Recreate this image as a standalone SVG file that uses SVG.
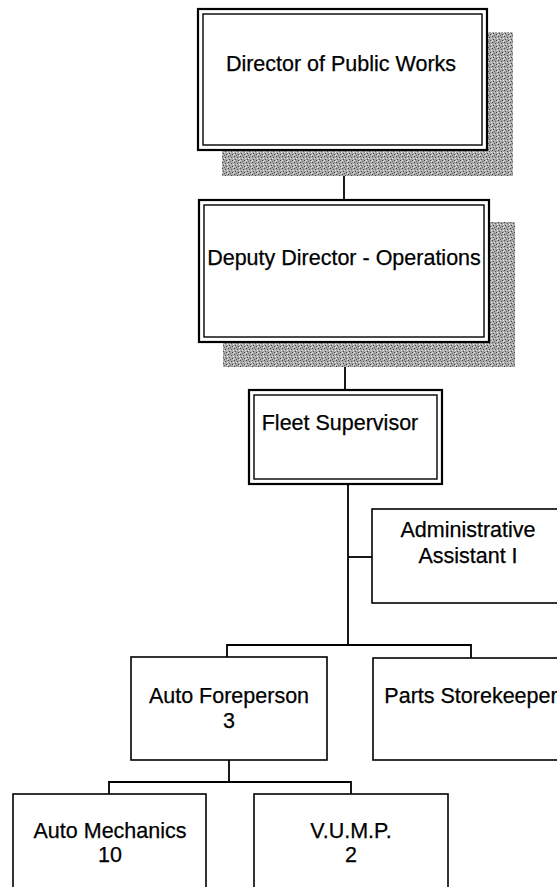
<svg xmlns="http://www.w3.org/2000/svg" width="557" height="887" viewBox="0 0 557 887">
<style>
.box{fill:#fff;stroke:#000;stroke-width:1.6}
.outer{fill:#fff;stroke:#000;stroke-width:2.2}
.inner{fill:none;stroke:#000;stroke-width:1.4}
.shadow{fill:url(#halftone)}
.conn{stroke:#000;stroke-width:1.8;fill:none}
text{font-family:"Liberation Sans",Arial,sans-serif;font-size:21.5px;fill:#000;text-anchor:middle;stroke:#000;stroke-width:0.25}
</style>
<defs>
<pattern id="halftone" width="6" height="6" patternUnits="userSpaceOnUse">
<rect width="6" height="6" fill="#a9a9a9"/>
<rect x="0" y="0" width="1" height="1" fill="#444"/>
<rect x="3" y="1" width="1" height="1" fill="#555"/>
<rect x="1" y="3" width="1" height="1" fill="#4a4a4a"/>
<rect x="4" y="4" width="1" height="1" fill="#444"/>
<rect x="2" y="5" width="1" height="1" fill="#666"/>
<rect x="5" y="2" width="1" height="1" fill="#eee"/>
<rect x="2" y="2" width="1" height="1" fill="#ddd"/>
<rect x="5" y="5" width="1" height="1" fill="#e6e6e6"/>
<rect x="0" y="4" width="1" height="1" fill="#ddd"/>
</pattern>
</defs>
<g id="connectors">
<line class="conn" x1="344" y1="151" x2="344" y2="199"/>
<line class="conn" x1="345" y1="343" x2="345" y2="389"/>
<line class="conn" x1="348" y1="485" x2="348" y2="645"/>
<line class="conn" x1="348" y1="557" x2="372" y2="557"/>
<polyline class="conn" points="227,657 227,645 471,645 471,658"/>
<line class="conn" x1="229" y1="760" x2="229" y2="782"/>
<polyline class="conn" points="109,794 109,782 351,782 351,794"/>
</g>
<g id="director">
<rect class="shadow" x="222" y="32" width="291" height="144"/>
<rect class="outer" x="198" y="9" width="289" height="141"/>
<rect class="inner" x="203" y="14" width="279" height="131"/>
<text x="341" y="71">Director of Public Works</text>
</g>
<g id="deputy">
<rect class="shadow" x="223" y="222" width="292" height="145"/>
<rect class="outer" x="199" y="200" width="290" height="142"/>
<rect class="inner" x="204" y="205" width="280" height="132"/>
<text x="344" y="265">Deputy Director - Operations</text>
</g>
<g id="fleet">
<rect class="outer" x="249" y="390" width="193" height="94"/>
<rect class="inner" x="254" y="395" width="183" height="84"/>
<text x="340" y="430">Fleet Supervisor</text>
</g>
<g id="admin">
<rect class="box" x="372" y="509" width="194" height="94"/>
<text x="468" y="537">Administrative</text>
<text x="468" y="563">Assistant I</text>
</g>
<g id="foreperson">
<rect class="box" x="131" y="657" width="196" height="103"/>
<text x="229" y="703">Auto Foreperson</text>
<text x="229" y="728">3</text>
</g>
<g id="parts">
<rect class="box" x="373" y="658" width="196" height="102"/>
<text x="471" y="703">Parts Storekeeper</text>
</g>
<g id="mechanics">
<rect class="box" x="13" y="794" width="193" height="110"/>
<text x="110" y="838">Auto Mechanics</text>
<text x="110" y="862">10</text>
</g>
<g id="vump">
<rect class="box" x="254" y="794" width="194" height="110"/>
<text x="351" y="838">V.U.M.P.</text>
<text x="351" y="862">2</text>
</g>
</svg>
